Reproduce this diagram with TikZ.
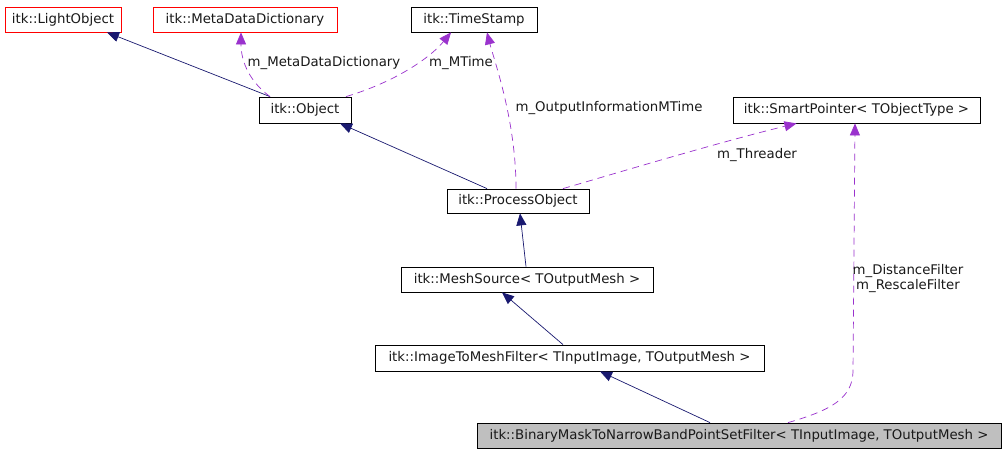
\documentclass[tikz,border=0pt]{standalone}
\usepackage{fontspec}
\setmainfont{DejaVu Sans}
\usetikzlibrary{arrows.meta}
\definecolor{navyedge}{HTML}{191970}
\definecolor{purpleedge}{HTML}{9A32CD}
\definecolor{redbox}{HTML}{FF0000}
\definecolor{grayfill}{HTML}{BFBFBF}
\begin{document}
\begin{tikzpicture}[x=1pt,y=-1pt,
  cls/.style={draw=black,line width=0.8pt,fill=white,minimum height=25pt,inner sep=0pt,
    font=\fontsize{13.3}{15}\selectfont,text=black!90},
  redcls/.style={cls,draw=redbox},
  inherit/.style={draw=navyedge,line width=0.7pt,arrows={-{Triangle[length=12pt,width=10pt,fill=navyedge]}}},
  usage/.style={draw=purpleedge,line width=0.7pt,dash pattern=on 7pt off 5pt,arrows={-{Triangle[length=12pt,width=10pt,fill=purpleedge]}}},
  lbl/.style={font=\fontsize{13.3}{15.5}\selectfont,text=black!90,inner sep=0pt,align=center}]
\useasboundingbox[fill=white] (0,0) rectangle (1008,453);

\node[redcls,minimum width=116pt] (light) at (63,19.5) {itk::LightObject};
\node[redcls,minimum width=184pt] (mdd) at (245,19.5) {itk::MetaDataDictionary};
\node[cls,minimum width=126pt] (ts) at (474,19.5) {itk::TimeStamp};
\node[cls,minimum width=92pt,minimum height=26pt] (obj) at (305,110) {itk::Object};
\node[cls,minimum width=247pt,minimum height=26pt] (sp) at (856.5,110) {itk::SmartPointer< TObjectType >};
\node[cls,minimum width=142pt,minimum height=24pt] (po) at (518,201) {itk::ProcessObject};
\node[cls,minimum width=252pt] (ms) at (527,279.5) {itk::MeshSource< TOutputMesh >};
\node[cls,minimum width=389pt,minimum height=26pt] (itmf) at (569.5,358) {itk::ImageToMeshFilter< TInputImage, TOutputMesh >};
\node[cls,fill=grayfill,minimum width=524pt] (bm) at (739,435.5) {itk::BinaryMaskToNarrowBandPointSetFilter< TInputImage, TOutputMesh >};

% inheritance
\draw[inherit] ([xshift=-35pt]obj.north) -- ([xshift=44pt]light.south);
\draw[inherit] ([xshift=-31pt]po.north) -- ([xshift=35pt]obj.south);
\draw[inherit] ([xshift=-1pt]ms.north) -- ([xshift=2pt]po.south);
\draw[inherit] ([xshift=-6.5pt]itmf.north) -- ([xshift=-25pt]ms.south);
\draw[inherit] ([xshift=-29pt]bm.north) -- ([xshift=30.5pt]itmf.south);

% usage
\draw[usage] ([xshift=-35pt]obj.north) .. controls (250,82) and (241,62) .. ([xshift=-4pt]mdd.south);
\draw[usage] ([xshift=41pt]obj.north) .. controls (395,82) and (430,58) .. ([xshift=-23pt]ts.south);
\draw[usage] ([xshift=-2pt]po.north) .. controls (516,120) and (494,60) .. ([xshift=13pt]ts.south);
\draw[usage] ([xshift=45pt]po.north) .. controls (620,172) and (720,142) .. ([xshift=-60pt]sp.south);
\draw[usage] ([xshift=49pt]bm.north) .. controls (832,410) and (852,398) .. (853,372) -- ([xshift=-1.5pt]sp.south);

% labels
\node[lbl] (lmdd) at (324,63) {m\_MetaDataDictionary};
\node[lbl] (lmt) at (461,63) {m\_MTime};
\node[lbl] (loim) at (609,108) {m\_OutputInformationMTime};
\node[lbl] (lthr) at (757,155) {m\_Threader};
\node[lbl] (ldf) at (908,278.5) {m\_DistanceFilter\\m\_RescaleFilter};
\end{tikzpicture}
\end{document}
